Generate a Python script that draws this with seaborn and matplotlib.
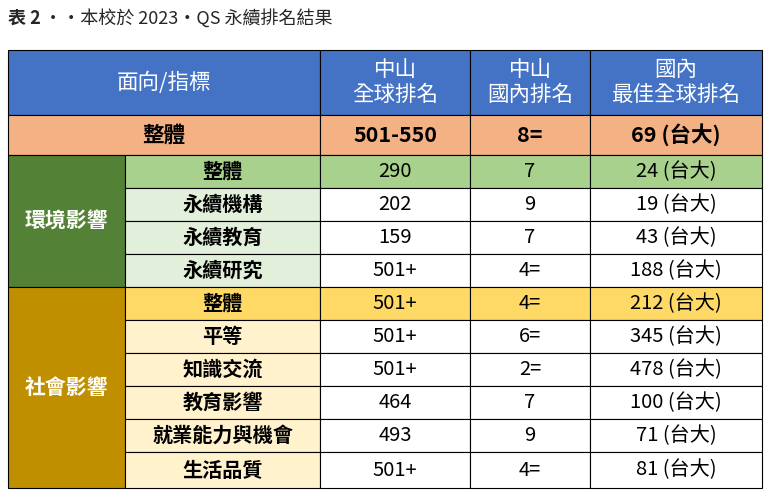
import matplotlib
matplotlib.use("Agg")
import matplotlib.pyplot as plt
import seaborn as sns
from matplotlib.patches import Rectangle

sns.set_theme(style="white")
plt.rcParams['font.family'] = ['Noto Sans CJK TC', 'DejaVu Sans']

# data
groups = ['環境影響', '社會影響']
indicators = ['整體', '永續機構', '永續教育', '永續研究',
              '整體', '平等', '知識交流', '教育影響', '就業能力與機會', '生活品質']
global_rank = ['290', '202', '159', '501+', '501+', '501+', '501+', '464', '493', '501+']
domestic_rank = ['7', '9', '7', '4=', '4=', '6=', '2=', '7', '9', '4=']
best_rank = ['24', '19', '43', '188', '212', '345', '478', '100', '71', '81']
best_school = '(台大)'
overall = ['整體', '501-550', '8=', '69 (台大)']
headers = ['面向/指標', '中山\n全球排名', '中山\n國內排名', '國內\n最佳全球排名']

col_x = [8, 125, 320, 470, 590, 762]
row_y = [50, 115, 155, 188, 221, 254, 287, 320, 353, 386, 419, 452, 488]

blue = '#4472C4'
fills = {'hdr': blue, 'all': '#F4B183',
         'g0': '#538135', 'g0top': '#A9D18E', 'g0sub': '#E2EFDA',
         'g1': '#BF8F00', 'g1top': '#FFD966', 'g1sub': '#FFF2CC'}

fig = plt.figure(figsize=(7.69, 4.94), dpi=100)
ax = fig.add_axes([0, 0, 1, 1])
ax.set_xlim(0, 769)
ax.set_ylim(494, 0)
ax.axis('off')


def cell(x0, x1, y0, y1, color, text='', tc='black', size=14.5, weight='normal'):
    ax.add_patch(Rectangle((x0, y0), x1 - x0, y1 - y0, facecolor=color,
                           edgecolor='black', linewidth=0.8))
    if text:
        ax.text((x0 + x1) / 2, (y0 + y1) / 2, text, ha='center', va='center',
                color=tc, fontsize=size, fontweight=weight, linespacing=1.15)


ax.text(8, 18, '表 2', fontsize=13, fontweight='bold', va='center', ha='left')
ax.text(44, 18, '‧‧本校於 2023‧QS 永續排名結果', fontsize=13, fontstyle='italic',
        va='center', ha='left')

# header
cell(col_x[0], col_x[2], row_y[0], row_y[1], blue, headers[0], 'white', 15.5)
for i in range(1, 4):
    cell(col_x[i + 1], col_x[i + 2], row_y[0], row_y[1], blue, headers[i], 'white', 15.5)

# overall row
cell(col_x[0], col_x[2], row_y[1], row_y[2], fills['all'], overall[0], size=15.5, weight='bold')
for i in range(1, 4):
    cell(col_x[i + 1], col_x[i + 2], row_y[1], row_y[2], fills['all'], overall[i], size=15.5, weight='bold')

# groups
spans = [(0, 4), (4, 10)]
for g, (a, b) in enumerate(spans):
    cell(col_x[0], col_x[1], row_y[2 + a], row_y[2 + b], fills[f'g{g}'], groups[g], 'white', 15, 'bold')
    for r in range(a, b):
        y0, y1 = row_y[2 + r], row_y[3 + r]
        top = r == a
        c1 = fills[f'g{g}top'] if top else fills[f'g{g}sub']
        c2 = fills[f'g{g}top'] if top else 'white'
        cell(col_x[1], col_x[2], y0, y1, c1, indicators[r], weight='bold')
        cell(col_x[2], col_x[3], y0, y1, c2, global_rank[r])
        cell(col_x[3], col_x[4], y0, y1, c2, domestic_rank[r])
        cell(col_x[4], col_x[5], y0, y1, c2, f'{best_rank[r]} {best_school}')

fig.savefig('out.png', dpi=100)
